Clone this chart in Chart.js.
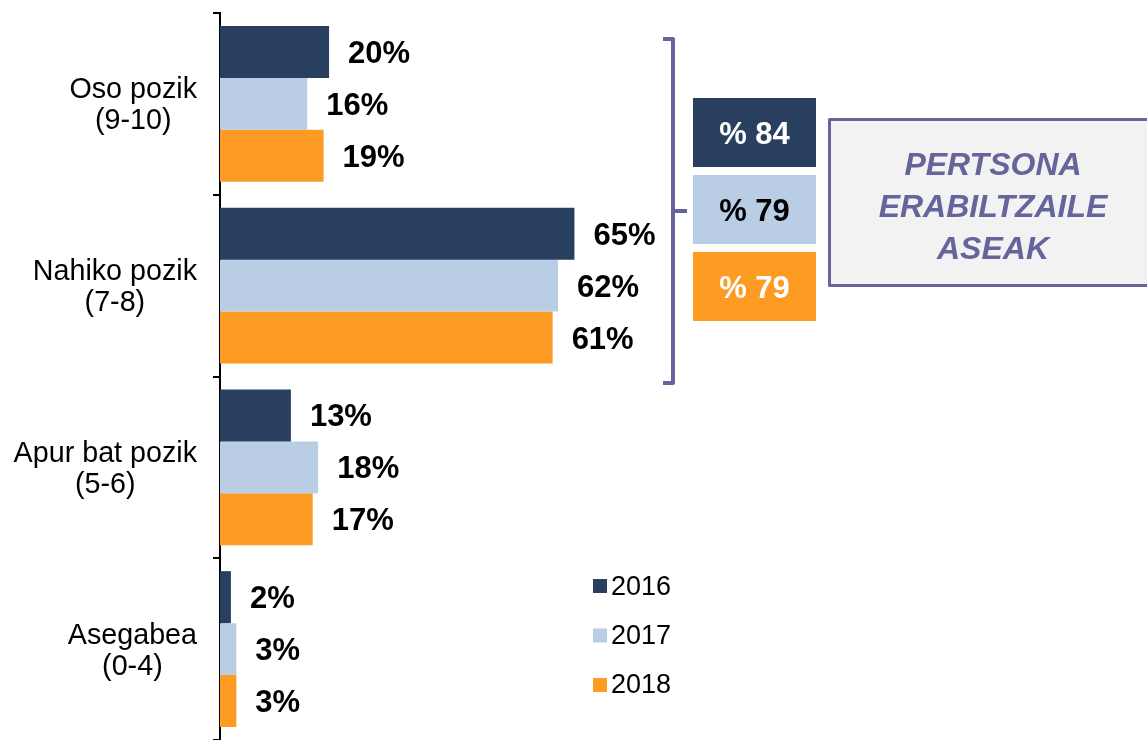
<!DOCTYPE html>
<html>
<head>
<meta charset="utf-8">
<script src="https://cdn.jsdelivr.net/npm/chart.js@4"></script>
<style>
  html, body { margin:0; padding:0; background:#fff; }
</style>
</head>
<body>
<canvas id="myChart" width="1147" height="740"></canvas>
<script>
  // chart data
  var categories = [['Oso pozik', '(9-10)'], ['Nahiko pozik', '(7-8)'], ['Apur bat pozik', '(5-6)'], ['Asegabea', '(0-4)']];
  var years = ['2016', '2017', '2018'];
  var values2016 = [20, 65, 13, 2];
  var values2017 = [16, 62, 18, 3];
  var values2018 = [19, 61, 17, 3];
  var totals = [84, 79, 79];
  var summaryText = ['PERTSONA', 'ERABILTZAILE', 'ASEAK'];

  var colors = ['#283f5f', '#b9cde5', '#fe9b22'];
  var purple = '#65659b';
  var fontName = '"Liberation Sans", Arial, sans-serif';

  // labels, legend, bracket and summary boxes
  var extras = {
    id: 'extras',
    afterDraw: function(chart) {
      var c = chart.ctx;
      var yScale = chart.scales.y;
      c.save();

      // category labels: block right aligned, lines centered
      c.fillStyle = '#000';
      c.textAlign = 'center';
      c.textBaseline = 'alphabetic';
      c.font = '28.7px ' + fontName;
      categories.forEach(function(lines, i) {
        var cy = yScale.getPixelForValue(i);
        var widest = 0;
        lines.forEach(function(l) { widest = Math.max(widest, c.measureText(l).width); });
        var cx = yScale.right - 23 - widest / 2;
        lines.forEach(function(l, j) {
          c.fillText(l, cx, cy + (j - (lines.length - 1) / 2) * 31 + 10);
        });
      });

      // value labels
      c.textAlign = 'left';
      c.font = 'bold 31px ' + fontName;
      chart.data.datasets.forEach(function(ds, d) {
        chart.getDatasetMeta(d).data.forEach(function(bar, i) {
          c.fillText(ds.data[i] + '%', bar.x + 19, bar.y + 11);
        });
      });

      // bracket
      c.strokeStyle = purple;
      c.lineWidth = 4;
      c.lineJoin = 'round';
      c.beginPath();
      c.moveTo(663, 39);
      c.lineTo(673, 39);
      c.lineTo(673, 383);
      c.lineTo(663, 383);
      c.moveTo(673, 211);
      c.lineTo(687, 211);
      c.stroke();

      // total boxes
      var boxTops = [98, 175, 252];
      var textColors = ['#fff', '#000', '#fff'];
      c.textAlign = 'center';
      totals.forEach(function(t, i) {
        c.fillStyle = colors[i];
        c.fillRect(693, boxTops[i], 123, 69);
        c.fillStyle = textColors[i];
        c.fillText('% ' + t, 754.5, boxTops[i] + 46);
      });

      // summary box
      c.fillStyle = '#f2f2f2';
      c.fillRect(829, 119, 330, 166);
      c.lineWidth = 3;
      c.strokeStyle = purple;
      c.strokeRect(829.5, 119.5, 330, 166);
      c.fillStyle = purple;
      c.font = 'italic bold 32px ' + fontName;
      summaryText.forEach(function(t, i) {
        c.fillText(t, 993, 175 + i * 42);
      });

      // legend
      c.textAlign = 'left';
      c.font = '27px ' + fontName;
      years.forEach(function(y, i) {
        c.fillStyle = colors[i];
        c.fillRect(593, 579 + i * 49.5, 14, 14);
        c.fillStyle = '#000';
        c.fillText(y, 611, 595 + i * 49);
      });

      c.restore();
    }
  };

  var ctx = document.getElementById('myChart');

  var myChart = new Chart(ctx, {
    type: 'bar',
    data: {
      labels: categories,
      datasets: [
        { label: years[0], data: values2016, backgroundColor: colors[0] },
        { label: years[1], data: values2017, backgroundColor: colors[1] },
        { label: years[2], data: values2018, backgroundColor: colors[2] }
      ]
    },
    options: {
      indexAxis: 'y',
      responsive: false,
      animation: false,
      categoryPercentage: 0.858,
      barPercentage: 1,
      layout: {
        padding: { top: 13, bottom: 0, left: 0, right: 0 }
      },
      plugins: {
        legend: false,
        tooltip: { enabled: false }
      },
      scales: {
        x: {
          display: false,
          min: 0,
          max: 170
        },
        y: {
          afterFit: function(scale) { scale.width = 220; },
          ticks: { display: false },
          grid: {
            offset: true,
            drawOnChartArea: false,
            drawTicks: true,
            tickLength: 7,
            color: '#000',
            lineWidth: 2
          },
          border: { display: true, color: '#000', width: 2 }
        }
      }
    },
    plugins: [extras]
  });
</script>
</body>
</html>
